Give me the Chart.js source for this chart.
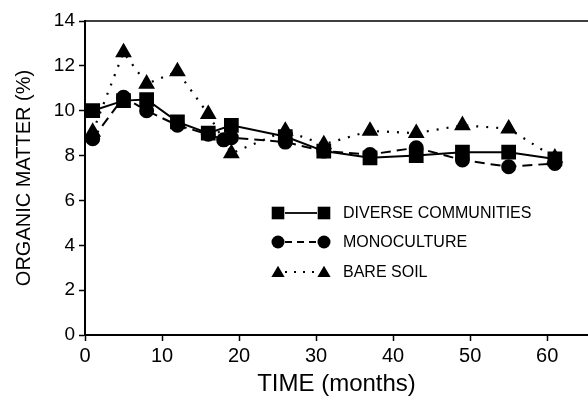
<!DOCTYPE html>
<html>
<head>
<meta charset="utf-8">
<script src="https://cdn.jsdelivr.net/npm/chart.js@4.4.1/dist/chart.umd.min.js"></script>
<style>
  html, body { margin: 0; padding: 0; background: #fff; }
  #wrap { width: 588px; height: 402px; }
</style>
</head>
<body>
<div id="wrap"><canvas id="myChart" width="588" height="402"></canvas></div>
<script>
// values
const months = [1, 5, 8, 12, 16, 19, 26, 31, 37, 43, 49, 55, 61];
const monoMonths = [1, 5, 8, 12, 16, 18, 19, 26, 31, 37, 43, 49, 55, 61];
const diverse = [10.0, 10.45, 10.5, 9.5, 9.0, 9.35, 8.85, 8.2, 7.9, 8.0, 8.15, 8.15, 7.85];
const mono = [8.75, 10.6, 10.0, 9.35, 8.95, 8.7, 8.8, 8.6, 8.2, 8.05, 8.35, 7.8, 7.5, 7.65];
const bare = [9.05, 12.6, 11.2, 11.75, 9.85, 8.1, 9.1, 8.5, 9.1, 9.0, 9.35, 9.2, 7.9];
const xTicks = [0, 10, 20, 30, 40, 50, 60];
const yTicks = [0, 2, 4, 6, 8, 10, 12, 14];

const seriesNames = ['DIVERSE COMMUNITIES', 'MONOCULTURE', 'BARE SOIL'];

function pts(xs, ys) {
    return xs.map((x, i) => ({ x: x, y: ys[i] }));
}

function marker(ctx, style, x, y, r) {
    ctx.beginPath();
    if (style === 'rect') {
        ctx.rect(x - r, y - r, 2 * r, 2 * r);
    } else if (style === 'circle') {
        ctx.arc(x, y, r, 0, Math.PI * 2);
    } else {
        ctx.moveTo(x, y - r);
        ctx.lineTo(x + r * 1.05, y + r * 0.8);
        ctx.lineTo(x - r * 1.05, y + r * 0.8);
        ctx.closePath();
    }
    ctx.fill();
}

// frame top line + hand-made legend with line samples
const extras = {
    id: 'extras',
    afterDatasetsDraw(chart) {
        const { ctx, chartArea } = chart;
        ctx.save();
        ctx.strokeStyle = '#000';
        ctx.lineWidth = 1.5;
        ctx.beginPath();
        ctx.moveTo(chartArea.left, chartArea.top);
        ctx.lineTo(chartArea.right, chartArea.top);
        ctx.stroke();

        const styles = ['rect', 'circle', 'triangle'];
        const dashes = [[], [7, 5], [2, 7]];
        const rows = [192, 221, 251];
        const x1 = chartArea.left + 193, x2 = chartArea.left + 239;
        ctx.fillStyle = '#000';
        ctx.font = '16px "Liberation Sans", Arial, sans-serif';
        ctx.textBaseline = 'middle';
        styles.forEach((s, i) => {
            const y = chartArea.top + rows[i];
            ctx.setLineDash(dashes[i]);
            ctx.lineWidth = 1.8;
            ctx.beginPath();
            ctx.moveTo(x1 + 7, y);
            ctx.lineTo(x2 - 7, y);
            ctx.stroke();
            ctx.setLineDash([]);
            const r = s === 'circle' ? 6.5 : 6.3;
            marker(ctx, s, x1, y, r);
            marker(ctx, s, x2, y, r);
            ctx.fillText(seriesNames[i], chartArea.left + 258, y + 1);
        });
        ctx.restore();
    }
};

const ctx = document.getElementById('myChart');
new Chart(ctx, {
    type: 'line',
    data: {
        datasets: [{
            label: seriesNames[0],
            data: pts(months, diverse),
            borderColor: '#000',
            backgroundColor: '#000',
            borderWidth: 2,
            pointStyle: 'rect',
            pointRadius: 9,
            pointHoverRadius: 9,
        }, {
            label: seriesNames[1],
            data: pts(monoMonths, mono),
            borderColor: '#000',
            backgroundColor: '#000',
            borderWidth: 2,
            borderDash: [10, 6],
            pointStyle: 'circle',
            pointRadius: 6.5,
            pointHoverRadius: 6.5,
        }, {
            label: seriesNames[2],
            data: pts(months, bare),
            borderColor: '#000',
            backgroundColor: '#000',
            borderWidth: 2.2,
            borderDash: [2, 8],
            pointStyle: 'triangle',
            pointRadius: 7.5,
            pointHoverRadius: 7.5,
        }]
    },
    options: {
        responsive: false,
        animation: false,
        layout: { autoPadding: false, padding: { top: 21, right: 0, left: 0, bottom: 0 } },
        elements: { line: { tension: 0 }, point: { borderWidth: 0 } },
        scales: {
            x: {
                type: 'linear',
                min: 0,
                max: 65.3,
                afterFit(scale) { scale.height = 67; },
                afterBuildTicks(scale) { scale.ticks = xTicks.map(v => ({ value: v })); },
                ticks: { color: '#000', padding: 3, maxRotation: 0, font: { size: 20, family: '"Liberation Sans", Arial, sans-serif' } },
                grid: { drawOnChartArea: false, tickLength: 6, tickColor: '#000', tickWidth: 1.5 },
                border: { color: '#000', width: 2 },
                title: { display: true, text: 'TIME (months)', color: '#000', padding: { bottom: 3, top: 0 }, font: { size: 24, family: '"Liberation Sans", Arial, sans-serif' } }
            },
            y: {
                min: 0,
                max: 14,
                afterFit(scale) { scale.width = 85; },
                afterBuildTicks(scale) {
                    const t = [];
                    for (let v = 0; v <= 14; v++) t.push({ value: v });
                    scale.ticks = t;
                },
                ticks: {
                    color: '#000', padding: 4,
                    font: { size: 19, family: '"Liberation Sans", Arial, sans-serif' },
                    callback: v => yTicks.includes(v) ? String(v) : ''
                },
                grid: {
                    drawOnChartArea: false, tickLength: 6, tickColor: '#000',
                    tickWidth: c => (c.tick && c.tick.value % 2 === 0) ? 1.5 : 1
                },
                border: { color: '#000', width: 2 },
                title: { display: true, text: 'ORGANIC MATTER (%)', color: '#000', padding: { top: 12, bottom: 0 }, font: { size: 20, family: '"Liberation Sans", Arial, sans-serif' } }
            }
        },
        plugins: {
            legend: { display: false },
            tooltip: { enabled: false }
        }
    },
    plugins: [extras]
});
</script>
</body>
</html>
